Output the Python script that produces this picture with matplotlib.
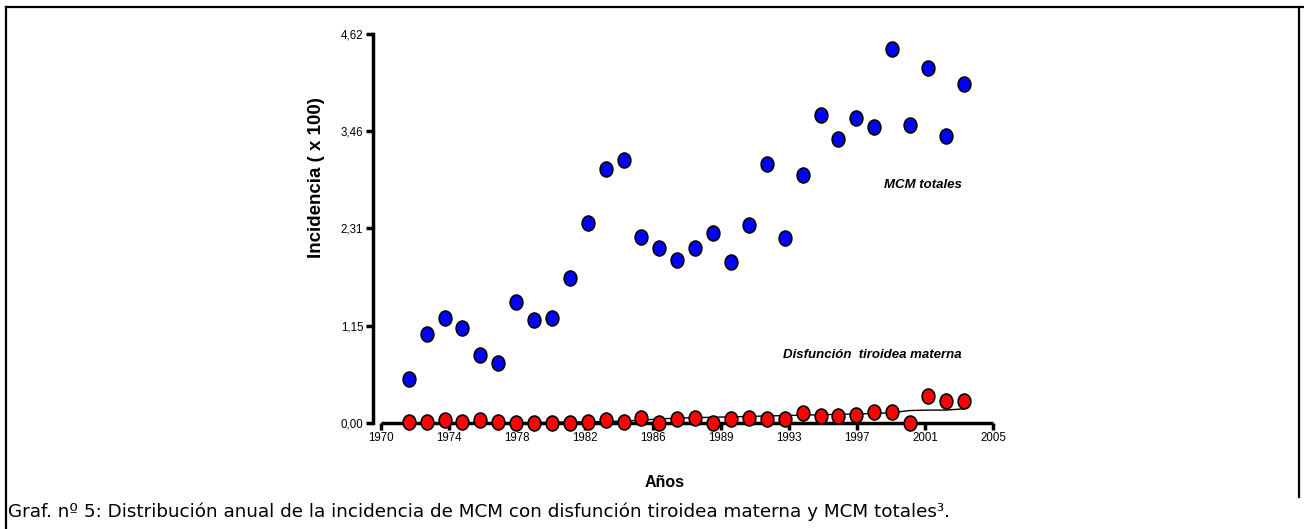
import numpy as np
import matplotlib
matplotlib.use("Agg")
import matplotlib.pyplot as plt
from matplotlib.markers import MarkerStyle
from matplotlib.transforms import Affine2D
from matplotlib.lines import Line2D

# años (posición de cada punto en el eje x)
anios = [1971.60, 1972.62, 1973.65, 1974.67, 1975.69, 1976.72, 1977.74, 1978.76,
         1979.78, 1980.81, 1981.83, 1982.85, 1983.88, 1984.90, 1985.92, 1986.95,
         1987.97, 1988.99, 1990.01, 1991.04, 1992.06, 1993.08, 1994.11, 1995.13,
         1996.15, 1997.18, 1998.20, 1999.22, 2000.24, 2001.27, 2002.29, 2003.31]

mcm_totales = [0.52, 1.06, 1.25, 1.13, 0.81, 0.71, 1.44, 1.22,
               1.24, 1.72, 2.37, 3.01, 3.12, 2.21, 2.08, 1.93,
               2.08, 2.25, 1.91, 2.35, 3.07, 2.19, 2.95, 3.66,
               3.37, 3.62, 3.52, 4.44, 3.54, 4.22, 3.41, 4.03]

disfuncion = [0.01, 0.01, 0.03, 0.01, 0.03, 0.01, 0.00, 0.00,
              0.00, 0.00, 0.01, 0.03, 0.01, 0.06, 0.00, 0.04,
              0.06, 0.00, 0.04, 0.06, 0.04, 0.04, 0.11, 0.08,
              0.08, 0.09, 0.13, 0.13, 0.00, 0.32, 0.26, 0.26]

tendencia = [0.0, 0.0, 0.0, 0.0, 0.0, 0.0, 0.0, 0.0,
             0.005, 0.01, 0.01, 0.015, 0.02, 0.03, 0.045, 0.055,
             0.06, 0.065, 0.07, 0.075, 0.08, 0.085, 0.09, 0.095,
             0.10, 0.105, 0.11, 0.12, 0.145, 0.15, 0.15, 0.165]

xticks = np.linspace(1970, 2005, 10)
xticklabels = ["1970", "1974", "1978", "1982", "1986", "1989", "1993", "1997", "2001", "2005"]
yticks = [0.0, 1.155, 2.31, 3.465, 4.62]
yticklabels = ["0,00", "1,15", "2,31", "3,46", "4,62"]

plt.rcParams["font.family"] = ["Liberation Sans", "DejaVu Sans"]

fig = plt.figure(figsize=(13.04, 5.29), dpi=100)
ax = fig.add_axes([0.286, 0.2009, 0.4798, 0.7348])

marca = MarkerStyle("o", transform=Affine2D().scale(0.85, 1.0))

ax.plot(anios, tendencia, color="black", linewidth=1, zorder=2)
ax.scatter(anios, mcm_totales, marker=marca, s=115, facecolor="#0000FF",
           edgecolor="black", linewidth=1.2, zorder=3, clip_on=False)
ax.scatter(anios, disfuncion, marker=marca, s=115, facecolor="#FF0000",
           edgecolor="black", linewidth=1.2, zorder=3, clip_on=False)

ax.set_xlim(1969.56, 2005.3)
ax.set_ylim(0, 4.62)
ax.set_xticks(xticks)
ax.set_xticklabels(xticklabels, fontsize=8.3)
ax.set_yticks(yticks)
ax.set_yticklabels(yticklabels, fontsize=8.3)

for s in ["top", "right"]:
    ax.spines[s].set_visible(False)
ax.spines["left"].set_linewidth(2.5)
ax.spines["bottom"].set_linewidth(2.5)
ax.spines["bottom"].set_bounds(1970, 2005)
ax.spines["bottom"].set_capstyle("butt")
ax.tick_params(axis="both", width=2.5, length=5, pad=2)

ax.set_ylabel("Incidencia ( x 100)", fontsize=13.5, fontweight="bold")
ax.yaxis.set_label_coords(-0.076, 0.63)
ax.set_xlabel("Años", fontsize=11.5, fontweight="bold")
ax.xaxis.set_label_coords(0.466, -0.135)

ax.text(2003.2, 2.83, "MCM totales", fontsize=9.5, fontweight="bold",
        style="italic", ha="right", va="center")
ax.text(2003.2, 0.80, "Disfunción  tiroidea materna", fontsize=9.5, fontweight="bold",
        style="italic", ha="right", va="center")

fig.text(8 / 1304, 1 - 517 / 529, "Graf. nº 5: Distribución anual de la incidencia de MCM con "
         "disfunción tiroidea materna y MCM totales³.", fontsize=13.2,
         family="DejaVu Sans", ha="left", va="baseline")

# marco de la figura
def px(x, y):
    return (x / 1304, 1 - y / 529)

marco = [[(6, 7), (6, 529)], [(6, 7), (1304, 7)], [(1299, 7), (1299, 497)]]
for (a, b) in marco:
    p1, p2 = px(*a), px(*b)
    fig.add_artist(Line2D([p1[0], p2[0]], [p1[1], p2[1]], color="black",
                          linewidth=1.6, transform=fig.transFigure))

fig.savefig("out.png", dpi=100)
